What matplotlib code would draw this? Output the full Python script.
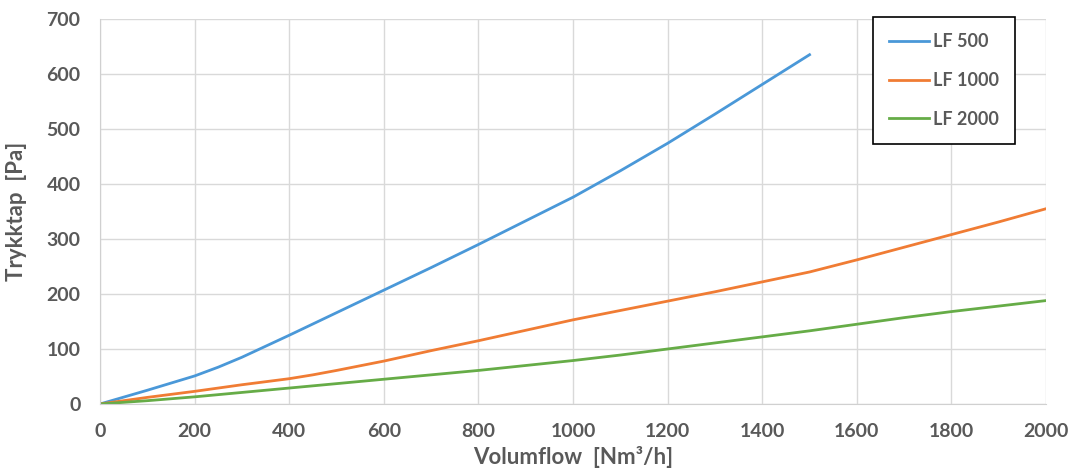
import matplotlib
matplotlib.use("Agg")
import matplotlib.pyplot as plt

# values (Volumflow in Nm3/h, Trykktap in Pa)
lf500_x = [0, 100, 200, 250, 300, 350, 400, 500, 600, 700, 800, 900, 1000, 1100, 1200, 1300, 1400, 1500]
lf500_y = [0, 25, 51, 67, 85, 105, 125, 166, 207, 248, 290, 333, 376, 424, 474, 527, 581, 635]

lf1000_x = [0, 100, 200, 300, 400, 450, 500, 600, 700, 800, 900, 1000, 1100, 1200, 1300,
            1400, 1500, 1600, 1700, 1800, 1900, 2000]
lf1000_y = [0, 12, 23, 35, 46, 53, 61, 78, 97, 115, 134, 153, 170, 187, 204,
            222, 240, 262, 285, 308, 331, 355]

lf2000_x = [0, 100, 200, 300, 400, 500, 600, 700, 800, 900, 1000, 1100, 1200, 1300,
            1400, 1500, 1600, 1700, 1800, 1900, 2000]
lf2000_y = [0, 6, 13, 21, 29, 37, 45, 53, 61, 70, 79, 89, 100, 111,
            122, 133, 145, 157, 168, 178, 188]

series = [
    ("LF 500", lf500_x, lf500_y, "#4a98d8"),
    ("LF 1000", lf1000_x, lf1000_y, "#f07c34"),
    ("LF 2000", lf2000_x, lf2000_y, "#66ac47"),
]

TXT = "#595959"
plt.rcParams["font.family"] = ["Lato", "DejaVu Sans"]

fig = plt.figure(figsize=(10.84, 4.74), dpi=100)
ax = fig.add_axes([0.0923, 0.1477, 0.8727, 0.8123])

for label, xs, ys, color in series:
    ax.plot(xs, ys, color=color, lw=2, label=label)

ax.set_xlim(0, 2000)
ax.set_ylim(0, 700)
ax.set_xticks(range(0, 2001, 200))
ax.set_yticks(range(0, 701, 100))
ax.grid(True, color="#d9d9d9", lw=1)
ax.set_axisbelow(True)
for side in ("top", "right"):
    ax.spines[side].set_visible(False)
for side in ("left", "bottom"):
    ax.spines[side].set_color("#d0d0d0")
ax.tick_params(length=0, pad=14, labelsize=14, labelcolor=TXT)
for t in ax.get_xticklabels() + ax.get_yticklabels():
    t.set_fontweight("bold")

ax.set_xlabel("Volumflow  [Nm³/h]", fontsize=16, fontweight="bold", color=TXT, labelpad=4)
ax.set_ylabel("Trykktap  [Pa]", fontsize=16, fontweight="bold", color=TXT, labelpad=14)

leg = ax.legend(loc="upper left", bbox_to_anchor=(0.817, 1.005),
                handlelength=2.2, handletextpad=0.2, labelspacing=1.2,
                borderpad=0.9, borderaxespad=0, fancybox=False, framealpha=1,
                prop={"weight": "bold", "size": 13})
leg.get_frame().set_edgecolor("black")
leg.get_frame().set_linewidth(1.2)
for t in leg.get_texts():
    t.set_color(TXT)

fig.savefig("out.png", dpi=100)
